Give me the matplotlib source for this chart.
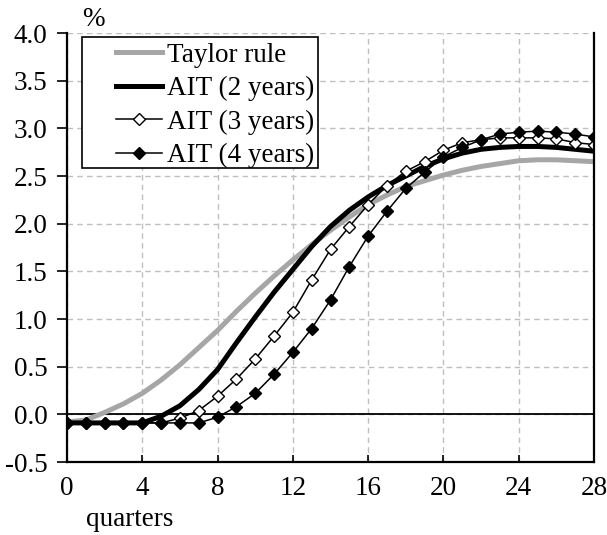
import matplotlib
matplotlib.use("Agg")
import matplotlib.pyplot as plt
from matplotlib.patches import Rectangle

quarters = list(range(29))
taylor = [-0.08, -0.06, 0.02, 0.11, 0.22, 0.36, 0.52, 0.70, 0.88, 1.08, 1.27, 1.45, 1.62,
          1.78, 1.93, 2.07, 2.20, 2.30, 2.39, 2.45, 2.51, 2.56, 2.60, 2.63, 2.66, 2.67,
          2.67, 2.66, 2.65]
ait2 = [-0.09, -0.09, -0.09, -0.09, -0.09, -0.02, 0.09, 0.26, 0.47, 0.75, 1.02, 1.28, 1.52,
        1.76, 1.97, 2.14, 2.28, 2.40, 2.50, 2.60, 2.68, 2.74, 2.78, 2.80, 2.81, 2.81,
        2.80, 2.78, 2.76]
ait3 = [-0.09, -0.09, -0.09, -0.09, -0.09, -0.09, -0.04, 0.04, 0.19, 0.37, 0.58, 0.82, 1.07,
        1.41, 1.73, 1.97, 2.20, 2.40, 2.55, 2.65, 2.77, 2.85, 2.88, 2.90, 2.90, 2.90,
        2.89, 2.85, 2.83]
ait4 = [-0.09, -0.09, -0.09, -0.09, -0.09, -0.09, -0.09, -0.09, -0.03, 0.08, 0.22, 0.42, 0.65,
        0.90, 1.20, 1.55, 1.87, 2.13, 2.37, 2.54, 2.70, 2.80, 2.88, 2.94, 2.96, 2.97,
        2.96, 2.94, 2.91]
labels = ["Taylor rule", "AIT (2 years)", "AIT (3 years)", "AIT (4 years)"]
xticks = list(range(0, 29, 4))
yticks = [-0.5, 0.0, 0.5, 1.0, 1.5, 2.0, 2.5, 3.0, 3.5, 4.0]

plt.rcParams["font.family"] = ["Liberation Serif", "DejaVu Serif"]
FS = 19.5

fig = plt.figure(figsize=(6.07, 5.35), dpi=100)
ax = fig.add_axes([67 / 607, 1 - 462 / 535, 527 / 607, 429 / 535])

ax.plot(quarters, taylor, color="#a6a6a6", lw=3.6, label=labels[0])
ax.plot(quarters, ait2, color="black", lw=3.6, label=labels[1])
ax.plot(quarters, ait3, color="black", lw=1.1, marker="D", ms=6.5, mfc="white",
        mec="black", mew=1.0, label=labels[2])
ax.plot(quarters, ait4, color="black", lw=1.1, marker="D", ms=6.0, mfc="black",
        mec="black", mew=1.0, label=labels[3])
ax.axhline(0, color="black", lw=1.3, zorder=1.5)

ax.set_xlim(0, 28)
ax.set_ylim(-0.5, 4.0)
ax.set_xticks(xticks)
ax.set_yticks(yticks)
ax.set_yticklabels([f"{v:.1f}" for v in yticks])
ax.grid(True, color="#bfbfbf", lw=1.0, linestyle=(0, (4, 3)))
ax.set_axisbelow(True)
ax.tick_params(axis="x", direction="in", length=5, width=1.2, pad=10, labelsize=FS)
ax.tick_params(axis="y", direction="out", length=7, width=1.2, pad=7, labelsize=FS)
ax.spines["top"].set_visible(False)
for s in ["left", "right", "bottom"]:
    ax.spines[s].set_linewidth(1.6)

# legend frame drawn separately: the entries sit right-aligned in a wider box
ax.add_patch(Rectangle((0.0285, 0.685), 0.4475, 0.306, transform=ax.transAxes,
                       facecolor="white", edgecolor="black", lw=1.2, zorder=5))
leg = ax.legend(loc="upper right", bbox_to_anchor=(0.484, 0.995), frameon=False,
                fontsize=FS, handlelength=1.7, handletextpad=0.2, labelspacing=0.31,
                borderpad=0.28, borderaxespad=0)
leg.set_zorder(6)

fig.text(93 / 607, 1 - 19 / 535, "%", fontsize=FS, ha="center", va="center")
fig.text(130 / 607, 1 - 520 / 535, "quarters", fontsize=FS, ha="center", va="center")

fig.savefig("out.png", dpi=100, facecolor="white")
